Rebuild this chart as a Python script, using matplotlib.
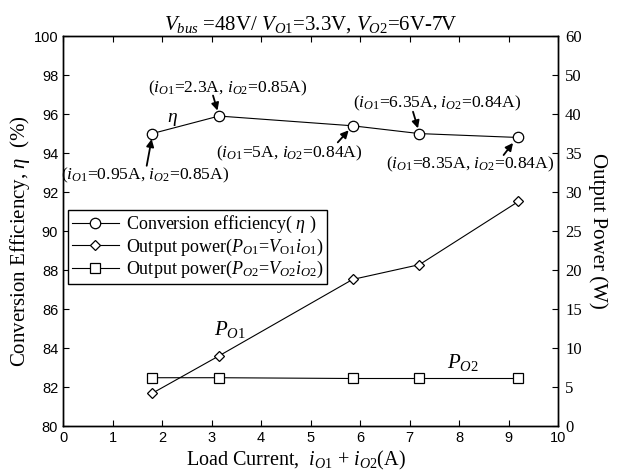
import matplotlib
matplotlib.use("Agg")
import matplotlib.pyplot as plt
import numpy as np

'''
Efficiency and output power of the dual-output converter versus total load current.
'''

load_current = [1.8, 3.15, 5.85, 7.2, 9.2]
efficiency = [95.0, 95.9, 95.4, 95.0, 94.8]
power_o1 = [4.2, 9.0, 18.8, 20.7, 28.8]
power_o2 = [6.2, 6.2, 6.1, 6.1, 6.1]
point_labels = [
    r"($i_{O1}$=0.95A, $i_{O2}$=0.85A)",
    r"($i_{O1}$=2.3A, $i_{O2}$=0.85A)",
    r"($i_{O1}$=5A, $i_{O2}$=0.84A)",
    r"($i_{O1}$=6.35A, $i_{O2}$=0.84A)",
    r"($i_{O1}$=8.35A, $i_{O2}$=0.84A)",
]
right_ticks = [0, 5, 10, 15, 20, 25, 30, 35, 40, 50, 60]

plt.rcParams["font.family"] = ["Liberation Serif", "DejaVu Serif"]
plt.rcParams["mathtext.fontset"] = "custom"
plt.rcParams["mathtext.rm"] = "Liberation Serif"
plt.rcParams["mathtext.it"] = "Liberation Serif:italic"
plt.rcParams["mathtext.bf"] = "Liberation Serif:bold"


def power_forward(p):
    # right axis is linear up to 40 W, then compressed (10 W per 2 %)
    p = np.asarray(p, dtype=float)
    return np.where(p <= 40, p / 2.5, 16 + (p - 40) / 5)


def power_inverse(u):
    u = np.asarray(u, dtype=float)
    return np.where(u <= 16, u * 2.5, 40 + (u - 16) * 5)


def main():
    fig = plt.figure(figsize=(6.18, 4.75), dpi=100)
    ax = fig.add_axes([0.102, 0.103, 0.801, 0.821])
    ax2 = ax.twinx()

    ax.set_xlim(0, 10)
    ax.set_ylim(80, 100)
    ax.set_xticks(range(0, 11))
    ax.set_yticks(range(80, 101, 2))
    ax.tick_params(direction="in", top=True, right=False, length=4, width=0.8,
                   labelsize=10.5, labelfontfamily="Liberation Sans")

    ax2.set_yscale("function", functions=(power_forward, power_inverse))
    ax2.set_ylim(0, 60)
    ax2.set_yticks(right_ticks)
    ax2.set_yticklabels([str(t) for t in right_ticks])
    ax2.minorticks_off()
    ax2.tick_params(direction="in", length=4, width=0.8, labelsize=12, pad=5)

    for spine in list(ax.spines.values()) + list(ax2.spines.values()):
        spine.set_linewidth(1.0)

    l1, = ax.plot(load_current, efficiency, color="k", lw=0.8, marker="o", ms=7.5,
                  mfc="white", mec="k", mew=0.9, label=r"Conversion efficiency( $\eta$ )")
    l2, = ax2.plot(load_current, power_o1, color="k", lw=0.8, marker="D", ms=5.5,
                   mfc="white", mec="k", mew=0.9,
                   label=r"Output power($P_{O1}$=$V_{\rm O1}i_{O1}$)")
    l3, = ax2.plot(load_current, power_o2, color="k", lw=0.8, marker="s", ms=7,
                   mfc="white", mec="k", mew=0.9,
                   label=r"Output power($P_{O2}$=$V_{O2}i_{O2}$)")

    # text and arrow for each efficiency point
    text_pos = [(1.66, 92.85), (3.33, 97.34), (4.57, 93.97), (7.55, 96.53), (8.23, 93.4)]
    arrow_from = [(1.69, 93.35), (3.03, 96.95), (5.55, 94.55), (7.07, 96.12), (8.9, 93.9)]
    arrow_to = [(1.79, 94.72), (3.12, 96.18), (5.77, 95.17), (7.17, 95.27), (9.09, 94.52)]
    for label, tp, a0, a1 in zip(point_labels, text_pos, arrow_from, arrow_to):
        ax.text(tp[0], tp[1], label, ha="center", va="center", fontsize=12.6)
        ax.annotate("", xy=a1, xytext=a0,
                    arrowprops=dict(arrowstyle="-|>", color="k", lw=1.3,
                                    mutation_scale=11, shrinkA=0, shrinkB=0))

    ax.text(2.2, 95.72, r"$\eta$", fontsize=14, ha="center", va="center")
    ax.text(3.37, 84.95, r"$P_{O1}$", fontsize=15, ha="center", va="center")
    ax.text(8.08, 83.25, r"$P_{O2}$", fontsize=15, ha="center", va="center")

    ax.set_title(r"$V_{bus}$ =48V/ $V_{O1}$=3.3V, $V_{O2}$=6V-7V", fontsize=15, pad=5)
    ax.set_xlabel(r"Load Current,  $i_{O1}$ + $i_{O2}$(A)", fontsize=14.5)
    ax.xaxis.set_label_coords(0.47, -0.058)
    ax.set_ylabel(r"Conversion Efficiency, $\eta$  (%)", fontsize=15)
    ax.yaxis.set_label_coords(-0.062, 0.475)
    ax2.set_ylabel("Output Power (W)", fontsize=15, rotation=270)
    ax2.yaxis.set_label_coords(1.1, 0.5)

    leg = ax2.legend(handles=[l1, l2, l3], loc="upper left", bbox_to_anchor=(0.01, 0.553),
                     fontsize=13, frameon=True, fancybox=False, edgecolor="k",
                     framealpha=1, borderpad=0.2, labelspacing=0.08, handlelength=2.6,
                     handletextpad=0.4, borderaxespad=0)
    leg.get_frame().set_linewidth(1.0)

    fig.savefig("out.png", dpi=100)


if __name__ == "__main__":
    main()
